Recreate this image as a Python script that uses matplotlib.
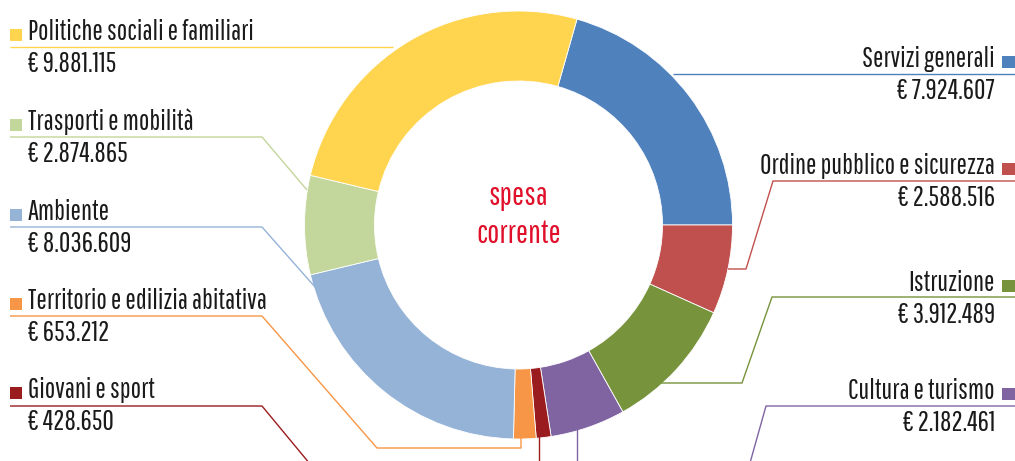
import matplotlib
matplotlib.use("Agg")
import matplotlib.pyplot as plt
from matplotlib.patches import Rectangle
from matplotlib import font_manager as fm

# dati (spesa corrente, in euro)
categorie = ["Servizi generali", "Ordine pubblico e sicurezza", "Istruzione",
             "Cultura e turismo", "Giovani e sport", "Territorio e edilizia abitativa",
             "Ambiente", "Trasporti e mobilità", "Politiche sociali e familiari"]
valori = [7924607, 2588516, 3912489, 2182461, 428650, 653212,
          8036609, 2874865, 9881115]
colori = ["#4F81BD", "#C0504D", "#77933C", "#8064A2", "#9A1C1F", "#F79646",
          "#95B3D7", "#C3D69B", "#FFD54F"]

W, H = 1015, 461

# font stretto tipo Agency FB: prende il primo installato
font = "DejaVu Sans"
for f in ["Saira Extra Condensed", "Pathway Gothic One", "Antonio", "Oswald"]:
    try:
        fm.findfont(f, fallback_to_default=False)
        font = f
        break
    except ValueError:
        pass
plt.rcParams['font.family'] = [font, 'DejaVu Sans']

fig = plt.figure(figsize=(W / 100, H / 100), dpi=100)
ax = fig.add_axes([0, 0, 1, 1])

cx, cy, r_est = 518.5, H - 225, 214
tot = sum(valori)
start = 360 * valori[0] / tot   # il primo spicchio finisce a ore 3
ax.pie(valori, colors=colori, startangle=start, counterclock=False,
       radius=r_est, center=(cx, cy),
       wedgeprops=dict(width=70, edgecolor="white", linewidth=0.6))

ax.set_xlim(0, W)
ax.set_ylim(0, H)
ax.set_aspect("equal")
ax.axis("off")

def euro(v):
    return "€ " + f"{v:,}".replace(",", ".")

# posizione etichette: (lato, y linea base nome, percorso linea guida in pixel immagine)
etichette = {
    0: ("r", 67, [(1015, 74), (673, 74)]),
    1: ("r", 174, [(1015, 181), (773, 181), (746, 269), (728, 269)]),
    2: ("r", 291, [(1015, 297), (772, 297), (742, 383), (657, 383)]),
    3: ("r", 399, [(1015, 406), (766, 406), (748, 470)]),
    4: ("l", 398, [(10, 406), (262, 406), (315, 470)]),
    5: ("l", 309, [(10, 316), (262, 316), (377, 448), (521, 448), (521, 437)]),
    6: ("l", 220, [(10, 227), (262, 227), (315, 287)]),
    7: ("l", 130, [(10, 137), (262, 137), (307, 190)]),
    8: ("l", 40, [(10, 47), (393, 47)]),
}
# tratti verticali verso il basso (proseguono fuori dall'immagine)
extra = {3: [(577, 430), (577, 470)], 4: [(539, 436), (539, 470)]}

fs = 20
peso = "medium"
testo = "#1a1a1a"
for i, (lato, yb, path) in etichette.items():
    xs = [p[0] for p in path]
    ys = [H - p[1] for p in path]
    ax.plot(xs, ys, color=colori[i], lw=1.0, solid_capstyle="butt", clip_on=False)
    if i in extra:
        ax.plot([p[0] for p in extra[i]], [H - p[1] for p in extra[i]],
                color=colori[i], lw=1.0, clip_on=False)
    if lato == "l":
        ax.add_patch(Rectangle((10, H - yb - 1), 12, 12, color=colori[i], lw=0))
        ax.text(28, H - yb, categorie[i], fontsize=fs, color=testo, weight=peso,
                ha="left", va="baseline")
        ax.text(28, H - yb - 32, euro(valori[i]), fontsize=fs, color=testo, weight=peso,
                ha="left", va="baseline")
    else:
        ax.add_patch(Rectangle((1002, H - yb - 1), 13, 12, color=colori[i], lw=0))
        ax.text(995, H - yb, categorie[i], fontsize=fs, color=testo, weight=peso,
                ha="right", va="baseline")
        ax.text(995, H - yb - 32, euro(valori[i]), fontsize=fs, color=testo, weight=peso,
                ha="right", va="baseline")

ax.text(cx, H - 205, "spesa", fontsize=23, color="#E0102A", weight=peso,
        ha="center", va="baseline")
ax.text(cx, H - 243, "corrente", fontsize=23, color="#E0102A", weight=peso,
        ha="center", va="baseline")

fig.savefig("out.png", dpi=100)
